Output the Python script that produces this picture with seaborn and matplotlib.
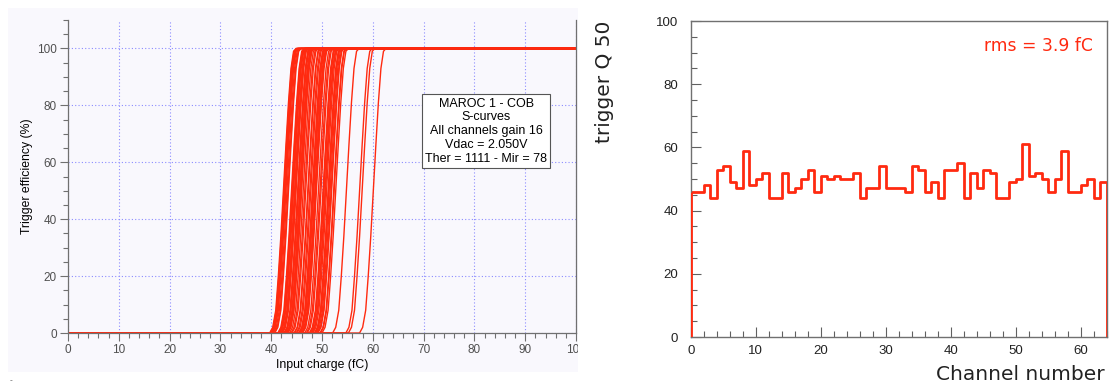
import numpy as np
import pandas as pd
import matplotlib
matplotlib.use("Agg")
import matplotlib.pyplot as plt
from matplotlib.patches import Rectangle
from matplotlib.ticker import MultipleLocator
from matplotlib.transforms import Bbox
import seaborn as sns

sns.set_theme(style="ticks")
plt.rcParams['font.family'] = ['Liberation Sans', 'DejaVu Sans']

RED = "#ff2a10"

# right panel: 50% trigger point per channel
channels = np.arange(64)
q50 = [46, 46, 48, 44, 53, 54, 49, 47, 59, 48, 50, 52, 44, 44, 52, 46,
       47, 50, 53, 46, 51, 50, 51, 50, 50, 52, 44, 47, 47, 54, 47, 47,
       47, 46, 54, 53, 46, 49, 44, 53, 53, 55, 44, 52, 47, 53, 52, 44,
       44, 49, 50, 61, 51, 52, 50, 46, 50, 59, 46, 46, 48, 50, 44, 49]
rms_text = "rms = 3.9 fC"

# left panel: estimated 50% points of each s-curve (fC)
scurve_mid = [44.4, 44.7, 46.3, 42.6, 51.2, 52.4, 47.6, 45.3, 57.4, 46.6, 48.3, 50.7, 42.9, 42.4, 50.2, 44.2,
              45.7, 48.6, 51.6, 44.8, 49.3, 48.7, 49.8, 48.2, 48.9, 50.4, 43.1, 45.8, 45.2, 52.7, 45.4, 46.0,
              45.6, 44.1, 52.3, 51.8, 44.6, 47.3, 42.8, 51.3, 51.9, 54.8, 43.3, 50.6, 45.9, 51.4, 50.9, 42.7,
              43.4, 47.8, 48.4, 60.1, 49.6, 50.3, 48.7, 44.9, 48.1, 57.9, 44.3, 44.0, 46.8, 48.8, 42.5, 47.2]
# s-curve shape: offset from 50% point (fC) vs efficiency (%)
profile_dq = [-2.7, -2.1, -1.5, -1.0, -0.5, 0.0, 0.5, 1.0, 1.5, 2.0, 2.5]
profile_eff = [0, 2, 8, 20, 34, 50, 66, 81, 93, 99, 100]
charge_min, charge_max = 0, 100

box_text = "MAROC 1 - COB\nS-curves\nAll channels gain 16\nVdac = 2.050V\nTher = 1111 - Mir = 78"

rows = []
for ch, mid in enumerate(scurve_mid):
    rows.append((ch, charge_min, 0))
    for dq, eff in zip(profile_dq, profile_eff):
        rows.append((ch, mid + dq, eff))
    rows.append((ch, charge_max, 100))
curves = pd.DataFrame(rows, columns=["channel", "charge", "eff"])

W, H = 1111, 389
fig = plt.figure(figsize=(W / 100, H / 100), dpi=100)
fig.patch.set_facecolor("white")

# lavender panel behind the left plot
panel = Rectangle((8 / W, 1 - 372 / H), (578 - 8) / W, (372 - 8) / H,
                  transform=fig.transFigure, facecolor="#f9f8fd", edgecolor="none", zorder=-5)
fig.patches.append(panel)

# ---- left: s-curves
ax1 = fig.add_axes([68 / W, 1 - 333 / H, (576 - 68) / W, (333 - 20) / H])
ax1.set_facecolor("#f9f8fd")
sns.lineplot(data=curves, x="charge", y="eff", units="channel", estimator=None,
             color=RED, lw=1.0, ax=ax1, legend=False)
ax1.set_xlim(0, 100)
ax1.set_ylim(0, 110)
ax1.xaxis.set_major_locator(MultipleLocator(10))
ax1.xaxis.set_minor_locator(MultipleLocator(2))
ax1.yaxis.set_minor_locator(MultipleLocator(5))
ax1.set_yticks([0, 20, 40, 60, 80, 100])
ax1.grid(True, which="major", color="#8c8cff", ls=(0, (1, 2)), lw=0.8)
ax1.set_axisbelow(True)
ax1.tick_params(which="both", direction="out", color="#707070", labelcolor="#505050",
                labelsize=8.5, width=0.8)
ax1.tick_params(which="major", length=6, pad=2)
ax1.tick_params(which="minor", length=3.5)
for s in ["left", "bottom", "right"]:
    ax1.spines[s].set_color("#707070")
    ax1.spines[s].set_linewidth(0.9)
ax1.spines["top"].set_visible(False)
ax1.set_xlabel("Input charge (fC)", fontsize=8.8, color="black", labelpad=2)
ax1.set_ylabel("Trigger efficiency (%)", fontsize=8.8, color="black", labelpad=3)
clip_box = Bbox.from_extents(0, 0, 578, H)
for lab in ax1.get_xticklabels():
    lab.set_clip_on(True)
    lab.set_clip_box(clip_box)

ax1.text(0.823, 0.645, box_text, transform=ax1.transAxes, ha="center", va="center",
         fontsize=9, linespacing=1.2, color="black",
         bbox=dict(boxstyle="square,pad=0.25", facecolor="white", edgecolor="#555555", lw=0.8))

fig.text(10 / W, 1 - 381 / H, "-", fontsize=6, color="#555555", ha="left", va="center")

# ---- right: Q50 per channel
ax2 = fig.add_axes([690.7 / W, 1 - 337 / H, (1107 - 690.7) / W, (337 - 21) / H])
ax2.set_facecolor("white")
sns.histplot(x=channels, weights=q50, bins=64, binrange=(0, 64), element="step",
             fill=False, color=RED, lw=2, ax=ax2)
# closing edges of the step outline down to zero
ax2.vlines([channels[0], channels[-1] + 1], 0, [q50[0], q50[-1]], color=RED, lw=2, zorder=3)
ax2.set_xlim(0, 64)
ax2.set_ylim(0, 100)
ax2.xaxis.set_major_locator(MultipleLocator(10))
ax2.xaxis.set_minor_locator(MultipleLocator(2))
ax2.yaxis.set_major_locator(MultipleLocator(20))
ax2.yaxis.set_minor_locator(MultipleLocator(5))
ax2.tick_params(which="both", direction="in", color="#606060", labelcolor="#222222",
                labelsize=9.5, width=0.8)
ax2.tick_params(which="major", length=7, pad=6)
ax2.tick_params(axis="y", which="major", pad=9)
ax2.tick_params(which="minor", length=4)
for s in ax2.spines.values():
    s.set_color("#707070")
    s.set_linewidth(1)
ax2.set_xlabel("Channel number", fontsize=14.5, family="DejaVu Sans", color="#222222", loc="right")
ax2.xaxis.set_label_coords(0.995, -0.088)
ax2.set_ylabel("trigger Q 50", fontsize=14.5, family="DejaVu Sans", color="#222222", loc="top")
ax2.yaxis.set_label_coords(-0.185, 1.0)
ax2.text(0.966, 0.921, rms_text, transform=ax2.transAxes, ha="right", va="center",
         fontsize=12.3, family="DejaVu Sans", color=RED)

fig.savefig("out.png", dpi=100)
